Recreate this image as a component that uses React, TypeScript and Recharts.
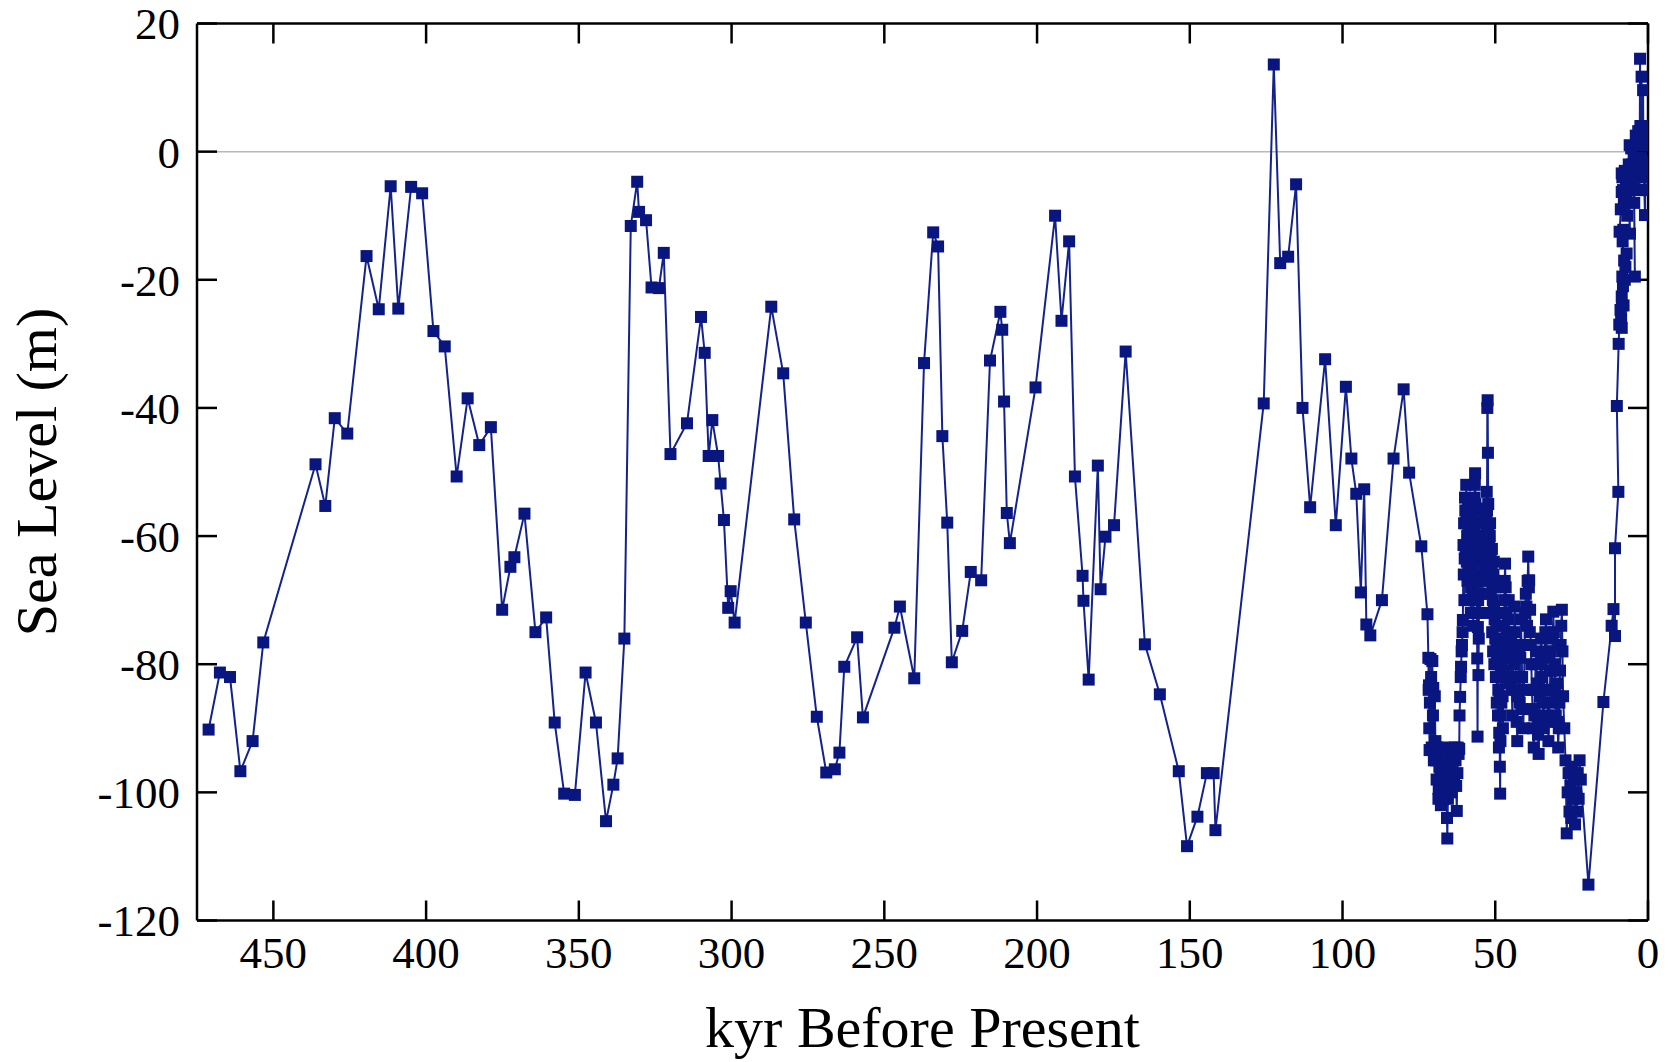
import React from 'react';
import { LineChart, Line, XAxis, YAxis, ReferenceLine, Label } from 'recharts';

const FONT = '"Liberation Serif", "Times New Roman", Times, serif';

const xTicks = [0, 50, 100, 150, 200, 250, 300, 350, 400, 450];
const yTicks = [-120, -100, -80, -60, -40, -20, 0, 20];

// [kyr before present, sea level (m)]
const cycle475to300: [number, number][] = [
  [471.2, -90.2], [467.5, -81.3], [464.2, -82.0], [460.8, -96.7], [456.8, -92.0],
  [453.3, -76.6], [436.2, -48.8], [433.0, -55.3], [429.9, -41.6], [425.8, -44.0],
  [419.5, -16.3], [415.5, -24.6], [411.6, -5.4], [409.1, -24.5], [404.9, -5.5],
  [401.3, -6.5], [397.6, -28.0], [393.9, -30.4], [390.0, -50.7], [386.4, -38.5],
  [382.6, -45.8], [378.8, -43.0], [375.1, -71.5], [372.4, -64.8], [371.1, -63.3],
  [367.8, -56.5], [364.2, -75.0], [360.7, -72.7], [357.9, -89.1], [354.8, -100.2],
  [351.3, -100.4], [347.8, -81.3], [344.4, -89.1], [341.1, -104.5], [338.7, -98.8],
  [337.3, -94.7], [335.1, -76.0], [333.0, -11.6], [330.9, -4.7], [330.3, -9.4],
  [328.0, -10.7], [326.2, -21.2], [323.8, -21.3], [322.2, -15.8], [320.0, -47.2],
  [314.6, -42.4], [310.0, -25.8], [308.8, -31.4], [307.5, -47.5], [306.3, -41.9],
  [304.4, -47.5], [303.6, -51.8], [302.5, -57.5], [301.1, -71.2], [300.3, -68.6],
  [299.0, -73.5],
];

const cycle300to200: [number, number][] = [
  [287.0, -24.2], [283.1, -34.6], [279.5, -57.4], [275.7, -73.5], [272.1, -88.2],
  [269.0, -96.9], [266.2, -96.4], [264.7, -93.8], [263.1, -80.4], [258.9, -75.8],
  [257.0, -88.3], [246.7, -74.3], [244.9, -71.0], [240.2, -82.2], [237.0, -33.0],
  [234.0, -12.6], [232.4, -14.8], [231.0, -44.4], [229.4, -57.9], [227.9, -79.7],
  [224.5, -74.8], [221.7, -65.6], [218.3, -66.9], [215.4, -32.6], [212.0, -25.0],
  [211.4, -27.8], [210.8, -39.0], [209.9, -56.4], [208.9, -61.1], [200.5, -36.8],
];

const cycle200to125: [number, number][] = [
  [194.1, -10.0], [192.0, -26.4], [189.5, -14.0], [187.6, -50.7], [185.1, -66.2],
  [184.8, -70.1], [183.1, -82.4], [180.1, -49.0], [179.2, -68.3], [177.6, -60.1],
  [174.8, -58.3], [171.0, -31.2], [164.7, -76.9], [159.8, -84.7], [153.6, -96.7],
  [150.9, -108.4], [147.5, -103.8], [144.4, -97.0], [142.2, -97.0], [141.6, -105.9],
];

const cycle125to72: [number, number][] = [
  [125.8, -39.3], [122.5, 13.6], [120.4, -17.4], [117.8, -16.4], [115.2, -5.1],
  [113.1, -40.0], [110.6, -55.5], [105.7, -32.4], [102.2, -58.3], [98.9, -36.7],
  [97.1, -47.9], [95.5, -53.4], [94.0, -68.8], [92.9, -52.7], [92.2, -73.8],
  [90.9, -75.5], [87.1, -70.0], [83.3, -47.9], [80.0, -37.1], [78.2, -50.1],
  [74.2, -61.6], [72.2, -72.2],
];

const glacial72to60: [number, number][] = [
  [71.9, -79.0], [71.8, -84.0], [71.7, -83.3], [71.6, -90.0], [71.5, -93.4], [71.4, -86.0],
  [71.2, -79.2], [71.0, -82.0], [70.8, -93.0], [70.6, -79.5], [70.4, -88.0], [70.3, -83.7],
  [70.1, -95.0], [69.9, -93.5], [69.8, -85.0], [69.6, -92.0], [69.4, -95.0], [69.2, -98.0],
  [69.0, -93.0], [68.8, -94.2], [68.6, -101.0], [68.5, -99.5], [68.3, -96.0], [68.0, -97.0],
  [67.8, -102.0], [67.5, -100.5], [67.3, -95.0], [67.0, -98.0], [66.8, -101.0], [66.5, -95.5],
  [66.3, -93.0], [66.0, -100.0], [65.8, -104.0], [65.7, -107.2], [65.5, -101.0], [65.2, -99.0],
  [65.0, -94.0], [64.8, -96.0], [64.5, -100.0], [64.2, -93.5], [64.0, -97.0], [63.7, -95.0],
  [63.5, -98.5], [63.2, -93.0], [63.0, -95.0], [62.8, -99.0], [62.6, -102.9], [62.4, -97.0],
  [62.3, -93.0], [62.0, -94.0], [61.8, -93.2], [61.7, -88.0], [61.5, -85.1], [61.3, -82.0],
  [61.2, -80.4], [61.0, -78.0], [60.9, -77.0], [60.7, -75.0], [60.6, -73.1],
];

const glacial60to52: [number, number][] = [
  [60.4, -61.4], [60.3, -66.0], [60.2, -58.0], [60.1, -70.0], [60.0, -63.5], [59.9, -54.0],
  [59.8, -56.0], [59.7, -62.0], [59.6, -58.0], [59.5, -52.0], [59.4, -57.0], [59.3, -64.0],
  [59.2, -60.0], [59.1, -67.0], [59.0, -61.0], [58.9, -55.0], [58.8, -59.0], [58.7, -66.0],
  [58.6, -62.0], [58.5, -65.0], [58.4, -70.0], [58.3, -63.0], [58.2, -58.0], [58.1, -64.0],
  [58.0, -72.0], [57.9, -68.0], [57.8, -61.0], [57.7, -57.0], [57.6, -56.0], [57.5, -63.0],
  [57.4, -69.0], [57.3, -62.0], [57.2, -74.0], [57.1, -66.0], [57.0, -70.0], [56.9, -59.0],
  [56.8, -54.0], [56.7, -52.0], [56.6, -50.2], [56.5, -55.0], [56.4, -58.0], [56.3, -61.0],
  [56.2, -67.0], [56.1, -64.0], [56.0, -72.0], [55.9, -79.1], [55.8, -91.3], [55.7, -74.2],
  [55.6, -70.0], [55.5, -81.7], [55.4, -76.0], [55.3, -66.0], [55.2, -69.0], [55.0, -72.0],
  [54.9, -64.0], [54.8, -61.0], [54.6, -66.0], [54.5, -58.0], [54.4, -63.0], [54.3, -60.0],
  [54.2, -69.0], [54.0, -67.0], [53.9, -62.0], [53.8, -57.0], [53.7, -56.0], [53.6, -65.0],
  [53.5, -60.0], [53.4, -63.0], [53.3, -58.0], [53.2, -61.0], [53.1, -55.7], [53.0, -60.0],
  [52.9, -57.0], [52.8, -53.1], [52.7, -56.0], [52.6, -40.0], [52.5, -38.8], [52.4, -47.0],
  [52.3, -55.0], [52.2, -59.0], [52.1, -64.0], [52.0, -61.0],
];

const glacial52to45: [number, number][] = [
  [51.9, -66.0], [51.8, -60.0], [51.7, -58.0], [51.6, -69.0], [51.5, -63.0], [51.4, -66.0],
  [51.3, -72.0], [51.2, -65.0], [51.1, -62.0], [51.0, -75.0], [50.9, -68.0], [50.8, -70.0],
  [50.7, -78.0], [50.6, -66.0], [50.5, -64.0], [50.4, -71.0], [50.3, -80.0], [50.2, -73.0],
  [50.1, -67.0], [50.0, -76.0], [49.9, -68.0], [49.8, -82.0], [49.7, -74.0], [49.6, -77.0],
  [49.5, -86.0], [49.4, -79.0], [49.3, -72.0], [49.2, -80.0], [49.1, -88.0], [49.0, -84.0],
  [48.9, -77.0], [48.8, -93.0], [48.7, -90.7], [48.6, -85.0], [48.5, -96.0], [48.4, -100.2],
  [48.3, -92.0], [48.2, -88.0], [48.1, -82.0], [48.0, -86.0], [47.9, -80.0], [47.8, -74.0],
  [47.7, -79.0], [47.6, -85.0], [47.5, -90.0], [47.4, -81.0], [47.3, -76.0], [47.2, -72.0],
  [47.1, -78.0], [47.0, -70.0], [46.9, -67.0], [46.8, -64.3], [46.6, -68.0], [46.4, -72.0],
  [46.2, -75.0], [46.0, -78.0], [45.8, -73.0], [45.6, -70.0], [45.4, -77.0], [45.2, -83.0],
  [45.0, -79.0], [44.8, -76.0],
];

const glacial45to28: [number, number][] = [
  [44.6, -84.0], [44.4, -88.0], [44.2, -82.0], [44.0, -80.0], [43.8, -75.0], [43.6, -71.0],
  [43.4, -78.0], [43.2, -84.0], [43.0, -89.0], [42.8, -92.0], [42.6, -85.0], [42.4, -78.0],
  [42.2, -82.0], [42.0, -86.0], [41.8, -79.0], [41.6, -73.0], [41.4, -77.0], [41.2, -82.0],
  [41.0, -87.0], [40.8, -90.0], [40.6, -84.0], [40.4, -77.0], [40.2, -72.0], [40.0, -69.0],
  [39.8, -71.0], [39.6, -74.0], [39.4, -67.0], [39.2, -63.2], [39.0, -68.0], [38.9, -66.9],
  [38.7, -75.0], [38.6, -71.5], [38.4, -77.0], [38.2, -80.0], [38.0, -84.0], [37.8, -87.0],
  [37.6, -90.0], [37.4, -93.0], [37.2, -88.0], [37.0, -84.0], [36.8, -80.0], [36.6, -78.0],
  [36.4, -83.0], [36.2, -88.0], [36.0, -91.0], [35.8, -94.0], [35.6, -89.0], [35.4, -85.0],
  [35.2, -80.0], [35.0, -76.0], [34.8, -79.0], [34.6, -82.0], [34.4, -86.0], [34.2, -90.0],
  [34.0, -84.0], [33.8, -79.0], [33.6, -75.0], [33.4, -73.0], [33.2, -78.0], [33.0, -84.0],
  [32.8, -88.0], [32.6, -92.0], [32.4, -89.0], [32.2, -86.0], [32.0, -81.0], [31.8, -78.0],
  [31.6, -81.0], [31.4, -84.0], [31.2, -76.0], [31.0, -71.8], [30.8, -75.0], [30.6, -80.0],
  [30.4, -84.0], [30.2, -88.0], [30.0, -85.0], [29.8, -83.0], [29.6, -89.0], [29.4, -93.0],
  [29.2, -90.0], [29.0, -86.0], [28.8, -81.0], [28.6, -77.0], [28.4, -74.0], [28.2, -71.5],
  [28.0, -78.0], [27.8, -85.0],
];

const glacialMaximum: [number, number][] = [
  [27.4, -90.0], [27.0, -95.0], [26.6, -106.4], [26.3, -100.0], [26.0, -97.0], [25.7, -103.0],
  [25.4, -99.0], [25.1, -104.0], [24.8, -96.0], [24.5, -101.0], [24.2, -98.0], [23.9, -105.0],
  [23.6, -100.0], [23.3, -103.0], [23.0, -97.0], [22.7, -101.0], [22.4, -95.0], [22.0, -98.0],
  [19.5, -114.4],
];

const deglaciation: [number, number][] = [
  [14.6, -85.9], [11.9, -74.0], [11.3, -71.4], [10.8, -75.6], [10.8, -61.9], [9.7, -53.1],
  [10.2, -39.7], [9.6, -30.0], [9.4, -27.0], [9.0, -24.7], [8.8, -26.0], [8.6, -27.5],
  [8.5, -24.0], [8.6, -22.6], [8.4, -19.5], [8.2, -21.0], [8.0, -24.0], [7.8, -17.0],
  [7.4, -18.0], [7.0, -15.9], [7.6, -20.0], [8.3, -14.0], [8.1, -12.2], [9.3, -12.5],
  [8.9, -9.0], [8.6, -6.3], [8.4, -4.0], [8.6, -3.4], [8.2, -6.0], [7.9, -8.0],
  [7.6, -3.0], [7.2, -4.5], [7.0, -7.0], [6.8, -10.0], [6.5, -6.0], [5.9, -12.8],
  [6.3, -2.0], [6.0, 1.0], [5.7, -3.0], [5.5, 0.5], [5.2, -2.0], [5.0, -5.0],
  [4.7, -1.0], [4.3, -19.5], [4.5, -8.0], [4.2, -4.0], [4.0, 2.5], [3.8, -1.0],
  [3.6, -3.0], [3.4, 1.0], [3.2, 3.2], [3.0, -2.0], [2.8, -6.0], [2.7, 2.0],
  [2.6, 14.5], [2.5, 4.0], [2.4, -1.0], [2.3, 3.0], [2.1, 11.7], [2.0, 1.0],
  [1.8, -4.0], [1.7, 2.0], [1.6, 9.6], [1.5, -2.0], [1.4, 2.0], [1.2, -6.0],
  [1.0, -9.9], [0.9, -2.0], [0.8, 1.0], [0.7, 3.0], [0.6, -3.0], [0.5, 1.0],
  [0.4, 4.0], [0.3, -4.0], [0.2, -1.5], [0.1, 2.0],
];

const data = [
  ...cycle475to300, ...cycle300to200, ...cycle200to125, ...cycle125to72,
  ...glacial72to60, ...glacial60to52, ...glacial52to45, ...glacial45to28,
  ...glacialMaximum, ...deglaciation,
].map(([kyr, level]) => ({ kyr, level }));

const SQ = 12;
const SquareDot = (props: any) => {
  const { cx, cy, index } = props;
  if (cx == null || cy == null) return <g key={`d${index}`} />;
  return <rect key={`d${index}`} x={cx - SQ / 2} y={cy - SQ / 2} width={SQ} height={SQ} fill="#0a1680" />;
};

const axisStroke = { stroke: '#000', strokeWidth: 2.5 };
const tickStyle = { fill: '#000', fontSize: 45, fontFamily: FONT };

export default function App() {
  return (
    <div style={{ position: 'absolute', left: 0, top: 0, width: 1672, height: 1062, background: '#fff' }}>
      <LineChart width={1672} height={1062} data={data} margin={{ top: 22.5, right: 23, bottom: 0, left: 0 }}>
        <XAxis
          xAxisId="b"
          dataKey="kyr"
          type="number"
          domain={[0, 475]}
          reversed
          allowDataOverflow
          ticks={xTicks}
          interval={0}
          height={141.5}
          tickSize={-20}
          tickMargin={35.5}
          axisLine={axisStroke}
          tickLine={axisStroke}
          tick={tickStyle}
        >
          <Label
            content={(p: any) => {
              const vb = p.viewBox || { x: 197, y: 920.5, width: 1451 };
              return (
                <text x={vb.x + vb.width / 2} y={vb.y + 126} textAnchor="middle" fontSize={58} fontFamily={FONT} fill="#000">
                  kyr Before Present
                </text>
              );
            }}
          />
        </XAxis>
        <XAxis
          xAxisId="t"
          orientation="top"
          dataKey="kyr"
          type="number"
          domain={[0, 475]}
          reversed
          allowDataOverflow
          ticks={xTicks}
          interval={0}
          height={1}
          tickSize={-20}
          axisLine={axisStroke}
          tickLine={axisStroke}
          tick={() => <g />}
        />
        <YAxis
          yAxisId="l"
          type="number"
          domain={[-120, 20]}
          allowDataOverflow
          ticks={yTicks}
          interval={0}
          width={197}
          tickSize={-20}
          tickMargin={37}
          axisLine={axisStroke}
          tickLine={axisStroke}
          tick={tickStyle}
        >
          <Label
            content={(p: any) => {
              const vb = p.viewBox || { x: 0, y: 23.5, height: 897 };
              const x = vb.x + 56;
              const y = vb.y + vb.height / 2;
              return (
                <text x={x} y={y} transform={`rotate(-90 ${x} ${y})`} textAnchor="middle" fontSize={58} fontFamily={FONT} fill="#000">
                  Sea Level (m)
                </text>
              );
            }}
          />
        </YAxis>
        <YAxis
          yAxisId="r"
          orientation="right"
          type="number"
          domain={[-120, 20]}
          allowDataOverflow
          ticks={yTicks}
          interval={0}
          width={1}
          tickSize={-20}
          axisLine={axisStroke}
          tickLine={axisStroke}
          tick={() => <g />}
        />
        <ReferenceLine xAxisId="b" yAxisId="l" y={0} stroke="#b8b8b8" strokeWidth={1.5} />
        <Line
          xAxisId="b"
          yAxisId="l"
          dataKey="level"
          type="linear"
          stroke="#14228c"
          strokeWidth={2}
          dot={SquareDot}
          activeDot={false}
          isAnimationActive={false}
        />
      </LineChart>
    </div>
  );
}
